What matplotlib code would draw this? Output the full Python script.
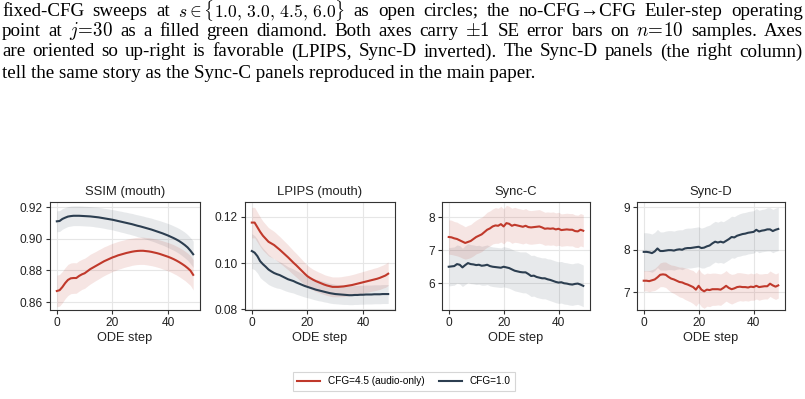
import numpy as np
import matplotlib
matplotlib.use("Agg")
import matplotlib.pyplot as plt

plt.rcParams['font.family'] = ['Liberation Sans', 'DejaVu Sans']
plt.rcParams['mathtext.fontset'] = 'cm'

RED = '#c0392b'
NAVY = '#2c3e50'

steps = list(range(50))

# SSIM (mouth)
ssim_red = [.8670, .8675, .8695, .8720, .8740, .8750, .8752, .8752, .8765, .8775,
            .8782, .8795, .8808, .8818, .8828, .8838, .8848, .8858, .8866, .8874,
            .8882, .8888, .8895, .8900, .8905, .8910, .8914, .8918, .8921, .8923,
            .8924, .8924, .8922, .8920, .8917, .8913, .8909, .8904, .8898, .8892,
            .8886, .8879, .8871, .8862, .8852, .8841, .8829, .8815, .8799, .8772]
ssim_red_se = [.0100, .0100, .0099, .0098, .0098, .0097, .0097, .0096, .0096, .0095,
               .0095, .0094, .0094, .0093, .0092, .0092, .0091, .0091, .0090, .0090,
               .0089, .0089, .0088, .0088, .0087, .0087, .0087, .0086, .0086, .0086,
               .0086, .0086, .0086, .0087, .0087, .0087, .0088, .0088, .0089, .0089,
               .0090, .0090, .0091, .0091, .0092, .0093, .0093, .0094, .0094, .0095]
ssim_navy = [.9110, .9112, .9125, .9133, .9140, .9143, .9145, .9145, .9145, .9144,
             .9143, .9142, .9141, .9139, .9137, .9135, .9132, .9129, .9126, .9123,
             .9120, .9116, .9112, .9108, .9104, .9100, .9096, .9092, .9087, .9082,
             .9078, .9073, .9068, .9063, .9058, .9052, .9046, .9040, .9034, .9027,
             .9020, .9012, .9004, .8995, .8985, .8973, .8960, .8945, .8925, .8902]
ssim_navy_se = [.0066, .0066, .0065, .0064, .0063, .0063, .0062, .0062, .0062, .0062,
                .0062, .0062, .0062, .0062, .0063, .0063, .0063, .0063, .0064, .0064,
                .0064, .0065, .0065, .0066, .0066, .0067, .0067, .0068, .0068, .0069,
                .0069, .0070, .0070, .0071, .0072, .0072, .0073, .0074, .0074, .0075,
                .0076, .0077, .0077, .0078, .0079, .0080, .0081, .0081, .0082, .0083]

# LPIPS (mouth)
lpips_red = [.1175, .1175, .1155, .1135, .1118, .1105, .1092, .1085, .1078, .1068,
             .1058, .1047, .1036, .1025, .1013, .1001, .0990, .0978, .0966, .0954,
             .0943, .0935, .0928, .0922, .0917, .0912, .0907, .0903, .0900, .0897,
             .0897, .0897, .0898, .0899, .0901, .0903, .0905, .0908, .0911, .0914,
             .0917, .0920, .0923, .0926, .0929, .0932, .0936, .0941, .0946, .0954]
lpips_red_se = [.0066, .0066, .0065, .0064, .0063, .0062, .0061, .0060, .0059, .0058,
                .0057, .0056, .0055, .0054, .0053, .0052, .0051, .0050, .0049, .0048,
                .0047, .0046, .0045, .0045, .0044, .0044, .0043, .0043, .0043, .0043,
                .0043, .0043, .0043, .0044, .0044, .0044, .0045, .0045, .0046, .0046,
                .0047, .0047, .0048, .0048, .0049, .0049, .0050, .0050, .0051, .0051]
lpips_navy = [.1052, .1045, .1030, .1008, .0995, .0984, .0972, .0964, .0957, .0952,
              .0948, .0942, .0936, .0930, .0926, .0922, .0916, .0911, .0906, .0901,
              .0897, .0893, .0889, .0885, .0882, .0879, .0876, .0873, .0870, .0868,
              .0866, .0865, .0864, .0863, .0862, .0861, .0861, .0862, .0862, .0863,
              .0863, .0864, .0864, .0864, .0865, .0865, .0865, .0866, .0866, .0866]
lpips_navy_se = [.0075, .0074, .0073, .0071, .0069, .0067, .0065, .0063, .0061, .0060,
                 .0058, .0057, .0056, .0054, .0053, .0052, .0051, .0050, .0049, .0048,
                 .0047, .0046, .0046, .0045, .0045, .0044, .0044, .0043, .0043, .0043,
                 .0042, .0042, .0042, .0042, .0041, .0041, .0041, .0041, .0041, .0041,
                 .0041, .0041, .0041, .0041, .0041, .0041, .0041, .0041, .0041, .0041]

# Sync-C
syncc_red = [7.40, 7.39, 7.36, 7.34, 7.30, 7.26, 7.22, 7.25, 7.28, 7.34,
             7.40, 7.44, 7.48, 7.55, 7.62, 7.66, 7.72, 7.75, 7.74, 7.79,
             7.72, 7.82, 7.80, 7.74, 7.77, 7.75, 7.73, 7.71, 7.74, 7.70,
             7.69, 7.70, 7.71, 7.72, 7.69, 7.65, 7.66, 7.65, 7.66, 7.63,
             7.65, 7.61, 7.62, 7.63, 7.62, 7.62, 7.58, 7.57, 7.62, 7.59]
syncc_red_se = [0.52, 0.52, 0.51, 0.51, 0.50, 0.50, 0.49, 0.50, 0.50, 0.51,
                0.51, 0.52, 0.52, 0.52, 0.53, 0.53, 0.53, 0.54, 0.53, 0.54,
                0.53, 0.54, 0.53, 0.53, 0.53, 0.52, 0.52, 0.52, 0.52, 0.51,
                0.51, 0.51, 0.51, 0.51, 0.50, 0.50, 0.50, 0.50, 0.50, 0.50,
                0.50, 0.49, 0.49, 0.49, 0.49, 0.49, 0.49, 0.49, 0.49, 0.49]
syncc_navy = [6.50, 6.51, 6.52, 6.58, 6.56, 6.48, 6.55, 6.61, 6.58, 6.57,
              6.55, 6.56, 6.53, 6.54, 6.56, 6.52, 6.50, 6.49, 6.48, 6.47,
              6.50, 6.48, 6.46, 6.42, 6.38, 6.36, 6.34, 6.33, 6.33, 6.28,
              6.22, 6.23, 6.19, 6.17, 6.15, 6.15, 6.12, 6.10, 6.07, 6.04,
              6.02, 6.03, 6.00, 5.99, 5.97, 5.96, 5.98, 5.99, 5.96, 5.92]
syncc_navy_se = [0.58, 0.58, 0.58, 0.58, 0.58, 0.58, 0.59, 0.59, 0.59, 0.59,
                 0.59, 0.59, 0.59, 0.60, 0.60, 0.60, 0.60, 0.60, 0.60, 0.60,
                 0.61, 0.61, 0.61, 0.61, 0.61, 0.61, 0.61, 0.62, 0.62, 0.62,
                 0.62, 0.62, 0.62, 0.62, 0.62, 0.62, 0.62, 0.63, 0.63, 0.63,
                 0.63, 0.63, 0.63, 0.63, 0.63, 0.63, 0.63, 0.63, 0.63, 0.63]

# Sync-D
syncd_red = [7.27, 7.27, 7.26, 7.28, 7.30, 7.35, 7.41, 7.42, 7.41, 7.36,
             7.32, 7.30, 7.27, 7.24, 7.23, 7.20, 7.18, 7.15, 7.12, 7.06,
             7.15, 7.06, 7.02, 7.06, 7.05, 7.07, 7.07, 7.07, 7.06, 7.10,
             7.15, 7.10, 7.07, 7.09, 7.12, 7.13, 7.12, 7.12, 7.11, 7.13,
             7.12, 7.15, 7.12, 7.13, 7.14, 7.14, 7.20, 7.16, 7.13, 7.16]
syncd_red_se = [0.24, 0.24, 0.25, 0.25, 0.26, 0.27, 0.28, 0.29, 0.30, 0.31,
                0.32, 0.33, 0.34, 0.35, 0.36, 0.37, 0.38, 0.38, 0.39, 0.39,
                0.40, 0.40, 0.40, 0.39, 0.39, 0.38, 0.38, 0.37, 0.37, 0.36,
                0.36, 0.35, 0.35, 0.34, 0.34, 0.33, 0.33, 0.32, 0.32, 0.32,
                0.31, 0.31, 0.31, 0.30, 0.30, 0.30, 0.30, 0.30, 0.30, 0.30]
syncd_navy = [7.95, 7.95, 7.94, 7.92, 7.96, 8.03, 7.97, 7.97, 7.98, 7.99,
              7.99, 7.98, 8.00, 8.01, 8.00, 8.03, 8.04, 8.04, 8.05, 8.06,
              8.07, 8.04, 8.05, 8.08, 8.10, 8.15, 8.19, 8.17, 8.19, 8.17,
              8.21, 8.25, 8.30, 8.29, 8.33, 8.35, 8.37, 8.38, 8.40, 8.41,
              8.42, 8.47, 8.43, 8.45, 8.46, 8.48, 8.48, 8.44, 8.47, 8.49]
syncd_navy_se = [0.45, 0.45, 0.45, 0.45, 0.45, 0.45, 0.45, 0.45, 0.46, 0.46,
                 0.46, 0.46, 0.46, 0.46, 0.47, 0.47, 0.47, 0.47, 0.47, 0.47,
                 0.47, 0.47, 0.48, 0.48, 0.48, 0.48, 0.48, 0.48, 0.49, 0.49,
                 0.49, 0.49, 0.49, 0.49, 0.49, 0.50, 0.50, 0.50, 0.50, 0.50,
                 0.50, 0.50, 0.50, 0.50, 0.50, 0.51, 0.51, 0.51, 0.51, 0.51]

panels = [
    ("SSIM (mouth)", ssim_red, ssim_red_se, ssim_navy, ssim_navy_se,
     [0.86, 0.88, 0.90, 0.92], (0.855, 0.9232), "%.2f"),
    ("LPIPS (mouth)", lpips_red, lpips_red_se, lpips_navy, lpips_navy_se,
     [0.08, 0.10, 0.12], (0.0797, 0.1264), "%.2f"),
    ("Sync-C", syncc_red, syncc_red_se, syncc_navy, syncc_navy_se,
     [6, 7, 8], (5.19, 8.46), "%d"),
    ("Sync-D", syncd_red, syncd_red_se, syncd_navy, syncd_navy_se,
     [7, 8, 9], (6.58, 9.125), "%d"),
]

legend_names = ["CFG=4.5 (audio-only)", "CFG=1.0"]

W, H = 805, 399
fig = plt.figure(figsize=(W / 100, H / 100), dpi=100)

# axes placement in pixels (left, right), shared top/bottom
lefts = [50, 245, 442, 637]
widths = [150, 150, 148, 148]
top_px, bot_px = 202, 310

x = np.array(steps)
for i, (title, r, rse, b, bse, yt, ylim, fmt) in enumerate(panels):
    ax = fig.add_axes([lefts[i] / W, (H - bot_px) / H, widths[i] / W, (bot_px - top_px) / H])
    r, rse, b, bse = map(np.array, (r, rse, b, bse))
    ax.fill_between(x, b - bse, b + bse, color=NAVY, alpha=0.11, lw=0)
    ax.fill_between(x, r - rse, r + rse, color=RED, alpha=0.13, lw=0)
    l1, = ax.plot(x, r, color=RED, lw=1.5, label=legend_names[0])
    l2, = ax.plot(x, b, color=NAVY, lw=1.5, label=legend_names[1])
    ax.set_xlim(-2.45, 51.45)
    ax.set_ylim(*ylim)
    ax.set_xticks([0, 20, 40])
    ax.set_yticks(yt)
    ax.yaxis.set_major_formatter(matplotlib.ticker.FormatStrFormatter(fmt))
    ax.grid(True, color='#e6e6e6', lw=0.8)
    ax.set_axisbelow(True)
    for s in ax.spines.values():
        s.set_color('#333333')
        s.set_linewidth(0.8)
    ax.tick_params(labelsize=8.6, length=3, width=0.8, color='#333333', labelcolor='#222222', pad=2)
    ax.set_title(title, fontsize=9.4, pad=5, color='#222222')
    ax.set_xlabel("ODE step", fontsize=9.2, labelpad=2, color='#222222')
    if i == 0:
        handles = [l1, l2]

leg = fig.legend(handles, legend_names, loc='center', bbox_to_anchor=(404 / W, 1 - 381.5 / H),
                 ncol=2, fontsize=7.2, frameon=True, fancybox=False, handlelength=2.3,
                 columnspacing=1.4, borderpad=0.45, handletextpad=0.8)
leg.get_frame().set_edgecolor('#cccccc')
leg.get_frame().set_linewidth(0.8)

# caption text from the page above the figure
caption = [
    (r"fixed-CFG sweeps at $s \in \{1.0,\, 3.0,\, 4.5,\, 6.0\}$ as open circles; the no-CFG→CFG Euler-step operating", True),
    (r"point at $j\!=\!30$ as a filled green diamond. Both axes carry $\pm1$ SE error bars on $n\!=\!10$ samples. Axes", True),
    (r"are oriented so up-right is favorable (LPIPS, Sync-D inverted). The Sync-D panels (the right column)", True),
    (r"tell the same story as the Sync-C panels reproduced in the main paper.", False),
]
line_y = [11, 31.5, 52, 73]
cap_font = dict(family=['Liberation Serif', 'DejaVu Serif'], color='black', va='center')
CAP_SIZE = 13.7

fig.canvas.draw()
renderer = fig.canvas.get_renderer()
x0, x1 = 2, 803
for (line, justify), yp in zip(caption, line_y):
    yf = 1 - yp / H
    if not justify:
        fig.text(x0 / W, yf, line, ha='left', fontsize=CAP_SIZE, **cap_font)
        continue
    # split on spaces outside math
    words, cur, inmath = [], "", False
    for ch in line:
        if ch == '$':
            inmath = not inmath
        if ch == ' ' and not inmath:
            words.append(cur)
            cur = ""
        else:
            cur += ch
    words.append(cur)
    texts = [fig.text(0, yf, w, ha='left',
                      fontsize=12.6 if '\\{' in w else CAP_SIZE, **cap_font) for w in words]
    wds = [t.get_window_extent(renderer).width for t in texts]
    gap = (x1 - x0 - sum(wds)) / (len(words) - 1)
    xp = x0
    for t, wd in zip(texts, wds):
        t.set_x(xp / W)
        xp += wd + gap

fig.savefig("out.png", dpi=100)
